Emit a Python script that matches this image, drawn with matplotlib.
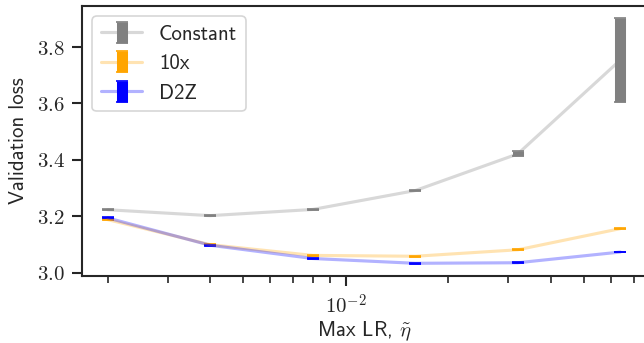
import matplotlib
matplotlib.use("Agg")
import matplotlib.pyplot as plt
import matplotlib.ticker as mticker
import numpy as np
import seaborn as sns

# ---- data ----
max_lr = [0.002, 0.004, 0.008, 0.016, 0.032, 0.064]
constant_mean = [3.223, 3.202, 3.224, 3.291, 3.421, 3.754]
constant_err = [0.0015, 0.0015, 0.0015, 0.0015, 0.009, 0.148]
tenx_mean = [3.188, 3.099, 3.061, 3.058, 3.081, 3.156]
tenx_err = [0.0015, 0.0015, 0.0015, 0.0015, 0.0015, 0.0015]
d2z_mean = [3.194, 3.097, 3.050, 3.033, 3.035, 3.073]
d2z_err = [0.0015, 0.0015, 0.0015, 0.0015, 0.0015, 0.0015]

series = [
    ("Constant", constant_mean, constant_err, "gray"),
    ("10x", tenx_mean, tenx_err, "orange"),
    ("D2Z", d2z_mean, d2z_err, "blue"),
]

sns.set_theme(context="paper", style="ticks")
plt.rcParams["font.family"] = ["cmss10", "DejaVu Sans"]
plt.rcParams["mathtext.fontset"] = "cm"
plt.rcParams["axes.unicode_minus"] = True
plt.rcParams["font.size"] = 10
plt.rcParams["axes.labelsize"] = 10
plt.rcParams["xtick.labelsize"] = 10
plt.rcParams["ytick.labelsize"] = 10
plt.rcParams["legend.fontsize"] = 10

fig = plt.figure(figsize=(644 / 150, 343 / 150), dpi=150)
ax = fig.add_axes([82 / 644, 67 / 343, 564 / 644, 270 / 343])

for label, mean, err, color in series:
    cont = ax.errorbar(max_lr, mean, yerr=err, color=color, lw=1.5,
                       elinewidth=5.3, capsize=3, capthick=0.8, label=label)
    cont.lines[0].set_alpha(0.3)

ax.set_xscale("log")


def log_fmt(v, pos):
    e = int(round(np.log10(v)))
    return r"$10^{%d}$" % e


ax.xaxis.set_major_formatter(mticker.FuncFormatter(log_fmt))
ax.xaxis.set_minor_formatter(mticker.NullFormatter())
ax.yaxis.set_major_locator(mticker.MultipleLocator(0.2))
ax.yaxis.set_major_formatter(mticker.FormatStrFormatter(r"$%.1f$"))
ax.set_xlabel(r"Max LR, $\tilde{\eta}$", labelpad=1)
ax.set_ylabel("Validation loss")
ax.legend(loc="upper left")

fig.savefig("out.png", dpi=150)
